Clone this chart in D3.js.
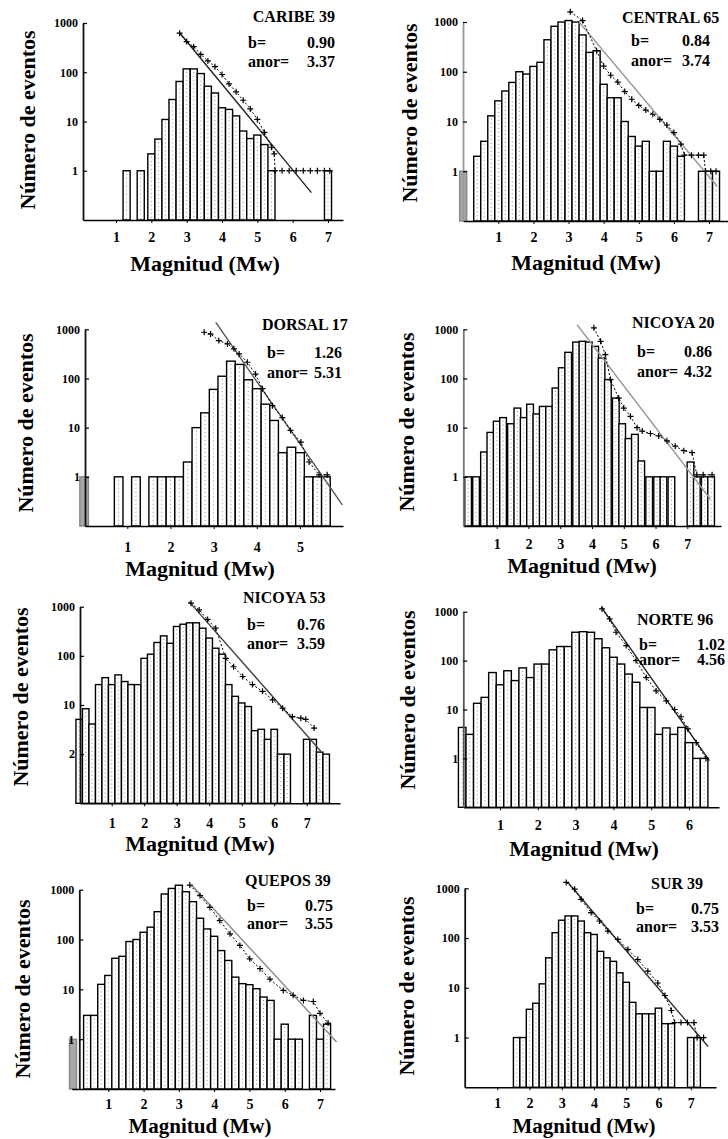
<!DOCTYPE html>
<html><head><meta charset="utf-8">
<script src="https://cdn.jsdelivr.net/npm/d3@7"></script>
<style>html,body{margin:0;padding:0;background:#fff;} svg{display:block}</style>
</head><body>
<svg id="chart" width="728" height="1139"></svg>
<script>
// ---------------- DATA ----------------
const regionTitles = ["CARIBE 39","CENTRAL 65","DORSAL 17","NICOYA 20","NICOYA 53","NORTE 96","QUEPOS 39","SUR 39"];
const bValues    = ["0.90","0.84","1.26","0.86","0.76","1.02","0.75","0.75"];
const anorValues = ["3.37","3.74","5.31","4.32","3.59","4.56","3.55","3.53"];
const xAxisTitle = "Magnitud (Mw)";
const yAxisTitle = "Número de eventos";
const yTickValues = [1000,100,10,1];
const yTickLabelsStd = ["1000","100","10","1"];
const yTickLabelsN53 = ["1000","100","10","2"];
const xTicks7 = [1,2,3,4,5,6,7];
const xTicks5 = [1,2,3,4,5];
const xTicks6 = [1,2,3,4,5,6];
const binWidth = 0.2;
const binWidthN20 = 0.21;

// histogram bins: [magnitude centre, number of events]
const caribeBins = [[1.3,1],[1.7,1],[2.0,2.2],[2.2,4.4],[2.4,11],[2.6,28],[2.8,65],[3.0,117],[3.2,117],[3.4,94],[3.6,52],[3.8,38],[4.0,19],[4.2,17.6],[4.4,13],[4.6,6.4],[4.8,4.5],[5.0,5.3],[5.2,3.4],[5.4,1],[7.0,1]];
const centralBins = [[0,1],[0.4,2],[0.6,4],[0.8,13],[1.0,26],[1.2,41],[1.4,61],[1.6,100],[1.8,90],[2.0,128],[2.2,155],[2.4,440],[2.6,820],[2.8,1000],[3.0,1070],[3.2,1000],[3.4,550],[3.6,245],[3.8,265],[4.0,56],[4.2,30],[4.4,30],[4.6,10],[4.8,5],[5.0,3.2],[5.2,4],[5.4,1],[5.6,1],[5.8,4],[6.0,3.2],[6.2,2],[6.8,1],[7.0,1],[7.2,1]];
const dorsalBins = [[0,1],[0.8,1],[1.2,1],[1.6,1],[1.8,1],[2.0,1],[2.2,1],[2.4,2],[2.6,10],[2.8,20],[3.0,60],[3.2,111],[3.4,225],[3.6,193],[3.8,94],[4.0,62],[4.2,30],[4.4,14],[4.6,3.1],[4.8,4],[5.0,3.1],[5.2,1],[5.4,1],[5.6,1]];
const nicoya20Bins = [[0.1,1],[0.35,1],[0.6,3.2],[0.8,8],[1.0,13.5],[1.2,16],[1.45,12],[1.65,25],[1.85,16],[2.05,30],[2.25,19],[2.45,27],[2.65,27],[2.85,64],[3.05,165],[3.25,340],[3.5,550],[3.7,570],[3.9,550],[4.1,450],[4.3,260],[4.5,95],[4.75,40],[4.95,12],[5.15,6],[5.35,7.3],[5.55,2.1],[5.8,1],[6.05,1],[6.25,1],[6.5,1],[7.1,2],[7.3,1],[7.55,1],[7.75,1]];
const nicoya53Bins = [[0.0,5.1],[0.2,8.4],[0.4,4.1],[0.6,26],[0.8,36],[1.0,26],[1.2,41],[1.4,30],[1.6,26],[1.8,26],[2.0,89],[2.2,108],[2.4,187],[2.6,255],[2.8,180],[3.0,396],[3.2,440],[3.4,470],[3.6,470],[3.8,365],[4.0,230],[4.2,143],[4.4,108],[4.6,26],[4.8,15],[5.0,11],[5.2,9.3],[5.4,3],[5.6,3.2],[5.8,2],[6.0,3.2],[6.2,1],[6.4,1],[7.0,2],[7.2,2],[7.4,1.1],[7.6,1]];
const norteBins = [[0.0,4.3],[0.2,3.1],[0.4,13.4],[0.6,17.7],[0.8,57],[1.0,32],[1.2,62],[1.4,39],[1.6,71],[1.8,45],[2.0,85],[2.2,85],[2.4,166],[2.6,194],[2.8,194],[3.0,380],[3.2,390],[3.4,380],[3.6,280],[3.8,183],[4.0,117],[4.2,85],[4.4,53],[4.6,36],[4.8,11],[5.0,11],[5.2,3.1],[5.4,4.2],[5.6,3.1],[5.8,4.3],[6.0,2.1],[6.2,1],[6.4,1]];
const queposBins = [[0.0,1],[0.4,3],[0.6,3],[0.8,12.6],[1.0,19],[1.2,42],[1.4,46],[1.6,91],[1.8,100],[2.0,140],[2.2,177],[2.4,362],[2.6,820],[2.8,1060],[3.0,1230],[3.2,910],[3.4,575],[3.6,267],[3.8,163],[4.0,116],[4.2,60],[4.4,38],[4.6,17.6],[4.8,13],[5.0,12.4],[5.2,10.3],[5.4,7],[5.6,6],[5.8,1],[6.0,2],[6.2,1],[6.4,1],[6.8,3],[7.0,1],[7.2,2]];
const surBins = [[1.6,1],[1.8,1],[2.0,3.7],[2.2,4.9],[2.4,12],[2.6,40],[2.8,128],[3.0,228],[3.2,278],[3.4,278],[3.6,220],[3.8,128],[4.0,118],[4.2,54],[4.4,40],[4.6,34],[4.8,20],[5.0,12.9],[5.2,5.1],[5.4,3],[5.6,3],[5.8,3],[6.0,3.9],[6.2,1.9],[6.4,1.9],[7.0,1],[7.2,1]];

// cumulative counts (+ markers): [magnitude, N >= M]
const caribeCum = [[2.8,620],[3.0,420],[3.2,330],[3.4,230],[3.6,170],[3.8,130],[4.0,90],[4.2,58],[4.4,40],[4.6,27],[4.8,18],[5.0,11],[5.2,6],[5.4,3],[5.48,2.2],[5.5,1],[5.7,1],[5.9,1],[6.1,1],[6.3,1],[6.5,1],[6.7,1],[6.9,1],[7.05,1]];
const centralCum = [[3.05,1600],[3.4,1070],[3.8,265],[4.0,130],[4.2,85],[4.4,62],[4.6,40],[4.8,28],[5.0,21],[5.2,17],[5.4,14],[5.6,11],[5.8,8.5],[6.0,6],[6.2,3.5],[6.3,2.1],[6.5,2.1],[6.7,2.1],[6.85,2.1],[6.9,1],[7.05,1],[7.2,1]];
const dorsalCum = [[2.78,870],[2.93,800],[3.12,590],[3.32,505],[3.47,400],[3.59,316],[3.78,214],[3.97,123],[4.13,62],[4.36,28],[4.59,16],[4.78,8.8],[5.02,5.1],[5.21,2],[5.44,1.1],[5.63,1.1]];
const nicoya20Cum = [[4.06,1070],[4.27,570],[4.42,305],[4.58,95],[4.84,40],[5.0,25],[5.21,17],[5.42,10],[5.58,8.5],[5.84,7.6],[6.1,6.8],[6.36,5.4],[6.62,4.2],[6.89,3.4],[7.15,3.1],[7.3,1.1],[7.5,1.1],[7.78,1.1]];
const nicoya53Cum = [[3.44,1180],[3.69,860],[3.95,550],[4.2,365],[4.51,89],[4.75,60],[5.03,38],[5.33,26],[5.64,19],[5.95,12.7],[6.26,8.6],[6.56,5.8],[6.82,5.4],[6.97,5.1],[7.23,3.4]];
const norteCum = [[3.7,1140],[3.9,710],[4.07,380],[4.34,203],[4.6,100],[4.87,45],[5.13,24],[5.4,15],[5.62,10],[5.79,7.1],[5.97,4],[6.19,2.1],[6.45,1]];
const queposCum = [[3.31,1240],[3.6,760],[3.88,440],[4.16,240],[4.45,130],[4.73,76],[5.01,41],[5.3,26],[5.58,16],[5.96,9.5],[6.24,7.6],[6.53,6],[6.81,5.7],[7.0,3.3],[7.23,2.1]];
const surCum = [[3.14,1310],[3.4,960],[3.6,600],[3.91,325],[4.17,220],[4.43,138],[4.74,94],[5.05,59],[5.36,37],[5.67,21.6],[5.98,12.5],[6.2,7],[6.4,3.5],[6.5,2],[6.7,2],[6.9,2],[7.1,2],[7.2,1],[7.4,1]];

// fitted Gutenberg-Richter lines: two end points [magnitude, N]
const caribeFit = [[2.81,620],[6.53,0.36]];
const centralFit = [[3.3,1000],[7.23,0.5]];
const dorsalFit = [[3.05,1380],[5.98,0.27]];
const nicoya20Fit = [[3.53,1240],[7.73,0.35]];
const nicoya53Fit = [[3.38,1270],[7.44,1.13]];
const norteFit = [[3.68,1240],[6.54,0.9]];
const queposFit = [[3.36,1240],[7.47,0.88]];
const surFit = [[3.19,1310],[7.54,0.66]];

const panelData = [
  {bins:caribeBins, w:binWidth, cum:caribeCum, fit:caribeFit, xt:xTicks7, yl:yTickLabelsStd},
  {bins:centralBins, w:binWidth, cum:centralCum, fit:centralFit, xt:xTicks7, yl:yTickLabelsStd},
  {bins:dorsalBins, w:binWidth, cum:dorsalCum, fit:dorsalFit, xt:xTicks5, yl:yTickLabelsStd},
  {bins:nicoya20Bins, w:binWidthN20, cum:nicoya20Cum, fit:nicoya20Fit, xt:xTicks7, yl:yTickLabelsStd},
  {bins:nicoya53Bins, w:binWidth, cum:nicoya53Cum, fit:nicoya53Fit, xt:xTicks7, yl:yTickLabelsN53},
  {bins:norteBins, w:binWidth, cum:norteCum, fit:norteFit, xt:xTicks6, yl:yTickLabelsStd},
  {bins:queposBins, w:binWidth, cum:queposCum, fit:queposFit, xt:xTicks7, yl:yTickLabelsStd},
  {bins:surBins, w:binWidth, cum:surCum, fit:surFit, xt:xTicks7, yl:yTickLabelsStd}
];

// ---------------- LAYOUT (pixels) & STYLE ----------------
const layout = [
  {ax:83, xs:83, xe:343, x1:116, xk:328, k:7, top:23, bottom:220, ylx:27, yly:120, xlx:205, xly:263, xlf:22, xty:237,
   tx:335, ta:"end", ty:22, bx:248, vx:335, va:"end", by:48, ay:67, fitC:"#222", axC:"#111", grey0:false},
  {ax:463, xs:463, xe:728, x1:498.3, xk:709, k:7, top:22, bottom:221, ylx:409, yly:113, xlx:586, xly:262, xlf:22, xty:237,
   tx:622, ta:"start", ty:23, bx:631, vx:682, va:"start", by:46, ay:66, fitC:"#999", axC:"#999", grey0:true},
  {ax:85, xs:85, xe:343, x1:127.3, xk:300, k:5, top:329.3, bottom:526, ylx:25, yly:423, xlx:200, xly:568, xlf:22, xty:547,
   tx:262, ta:"start", ty:330, bx:267, vx:342, va:"end", by:358, ay:378, fitC:"#555", axC:"#111", grey0:true},
  {ax:463.3, xs:463.3, xe:721, x1:496.7, xk:687.3, k:7, top:329.3, bottom:526, ylx:406, yly:422, xlx:582, xly:565, xlf:22, xty:544,
   tx:632, ta:"start", ty:328, bx:637, vx:712, va:"end", by:357, ay:377, fitC:"#999", axC:"#777", grey0:false},
  {ax:80, xs:80, xe:340, x1:111.7, xk:306.7, k:7, top:606.7, bottom:803.3, ylx:20, yly:697, xlx:200, xly:843, xlf:22, xty:823,
   tx:243, ta:"start", ty:603, bx:247, vx:325, va:"end", by:630, ay:649, fitC:"#444", axC:"#111", grey0:false},
  {ax:463.3, xs:463.3, xe:719, x1:500, xk:689, k:6, top:611.7, bottom:807.3, ylx:407, yly:700, xlx:584, xly:848, xlf:22, xty:825,
   tx:637, ta:"start", ty:625, bx:639, vx:697, va:"start", by:650, ay:665, fitC:"#222", axC:"#555", grey0:false},
  {ax:79.3, xs:71.7, xe:335, x1:108.3, xk:320, k:7, top:889.7, bottom:1089, ylx:22, yly:989, xlx:200, xly:1126, xlf:21, xty:1104,
   tx:245, ta:"start", ty:886, bx:247, vx:333, va:"end", by:911, ay:929, fitC:"#888", axC:"#111", grey0:true},
  {ax:464.7, xs:464.7, xe:716, x1:497.3, xk:690.7, k:7, top:888.3, bottom:1087.3, ylx:406, yly:986, xlx:584, xly:1126, xlf:21, xty:1103,
   tx:651, ta:"start", ty:889, bx:636, vx:719, va:"end", by:914, ay:932, fitC:"#333", axC:"#111", grey0:false}
];

const FONT = "'Liberation Serif','Times New Roman',serif";
const svg = d3.select("#chart");
const plus = "M-3,0H3M0,-3V3";

panelData.forEach((pd, i) => {
  const L = layout[i];
  const g = svg.append("g");
  const x = d3.scaleLinear().domain([1, L.k]).range([L.x1, L.xk]);
  x.domain([x.invert(L.xs), x.invert(L.xe)]).range([L.xs, L.xe]);
  const y = d3.scaleLog().domain([0.1, 1000]).range([L.bottom, L.top]);
  const isGrey = d => L.grey0 && d[0] <= 0.05;

  // bars
  const bg = g.append("g");
  bg.selectAll("rect").data(pd.bins).join("rect")
    .attr("x", d => x(d[0] - pd.w/2))
    .attr("width", d => x(d[0] + pd.w/2) - x(d[0] - pd.w/2))
    .attr("y", d => y(d[1]))
    .attr("height", d => L.bottom - y(d[1]))
    .attr("fill", d => isGrey(d) ? "#a8a8a8" : "#fff")
    .attr("stroke", d => isGrey(d) ? "#888" : "#000")
    .attr("stroke-width", 1.4);
  // scan-like dotted texture inside bars
  bg.selectAll("line").data(pd.bins.filter(d => !isGrey(d))).join("line")
    .attr("x1", d => x(d[0])).attr("x2", d => x(d[0]))
    .attr("y1", d => y(d[1]) + 3).attr("y2", L.bottom - 1)
    .attr("stroke", "#777").attr("stroke-width", 0.8).attr("stroke-dasharray", "1,3");

  // x axis
  const pad = (L.xty - L.bottom) - 5 - 3;
  const xa = g.append("g").attr("transform", `translate(0,${L.bottom})`)
    .call(d3.axisBottom(x).tickValues(pd.xt).tickFormat(d3.format("d")).tickSize(3).tickSizeOuter(0).tickPadding(pad));
  xa.select(".domain").attr("stroke", "#000").attr("stroke-width", 1.6);
  xa.selectAll(".tick line").attr("stroke", "#000").attr("stroke-width", 1);
  xa.selectAll("text").attr("font-family", FONT).attr("font-weight", "bold").attr("font-size", 14).attr("fill", "#000");

  // y axis
  const ya = g.append("g").attr("transform", `translate(${L.ax},0)`)
    .call(d3.axisLeft(y).tickValues(yTickValues).tickFormat((d, j) => pd.yl[j]).tickSizeInner(-4).tickSizeOuter(0).tickPadding(5));
  ya.select(".domain").attr("stroke", L.axC).attr("stroke-width", 1.8);
  ya.selectAll(".tick line").attr("stroke", "#000").attr("stroke-width", 1.2);
  ya.selectAll("text").attr("font-family", FONT).attr("font-weight", "bold").attr("font-size", 12).attr("fill", "#000");

  // fitted line
  g.append("path").datum(pd.fit)
    .attr("d", d3.line().x(d => x(d[0])).y(d => y(d[1])))
    .attr("fill", "none").attr("stroke", L.fitC).attr("stroke-width", 1.4);

  // cumulative markers
  g.append("path").datum(pd.cum)
    .attr("d", d3.line().x(d => x(d[0])).y(d => y(d[1])))
    .attr("fill", "none").attr("stroke", "#000").attr("stroke-width", 1).attr("stroke-dasharray", "2,2");
  g.append("g").selectAll("path").data(pd.cum).join("path")
    .attr("transform", d => `translate(${x(d[0])},${y(d[1])})`)
    .attr("d", plus).attr("stroke", "#000").attr("stroke-width", 1.2).attr("fill", "none");

  // axis titles
  g.append("text").attr("x", L.xlx).attr("y", L.xly).attr("dy", "0.35em")
    .attr("text-anchor", "middle").attr("font-family", FONT).attr("font-weight", "bold")
    .attr("font-size", L.xlf).text(xAxisTitle);
  g.append("text").attr("transform", `translate(${L.ylx},${L.yly}) rotate(-90)`).attr("dy", "0.35em")
    .attr("text-anchor", "middle").attr("font-family", FONT).attr("font-weight", "bold")
    .attr("font-size", 22).text(yAxisTitle);

  // annotations
  const txt = (tx, ty, anchor, s) => g.append("text").attr("x", tx).attr("y", ty)
    .attr("text-anchor", anchor).attr("font-family", FONT).attr("font-weight", "bold")
    .attr("font-size", 16).attr("fill", "#000").text(s);
  txt(L.tx, L.ty, L.ta, regionTitles[i]);
  txt(L.bx, L.by, "start", "b=");
  txt(L.vx, L.by, L.va, bValues[i]);
  txt(L.bx, L.ay, "start", "anor=");
  txt(L.vx, L.ay, L.va, anorValues[i]);
});
</script>
</body></html>
